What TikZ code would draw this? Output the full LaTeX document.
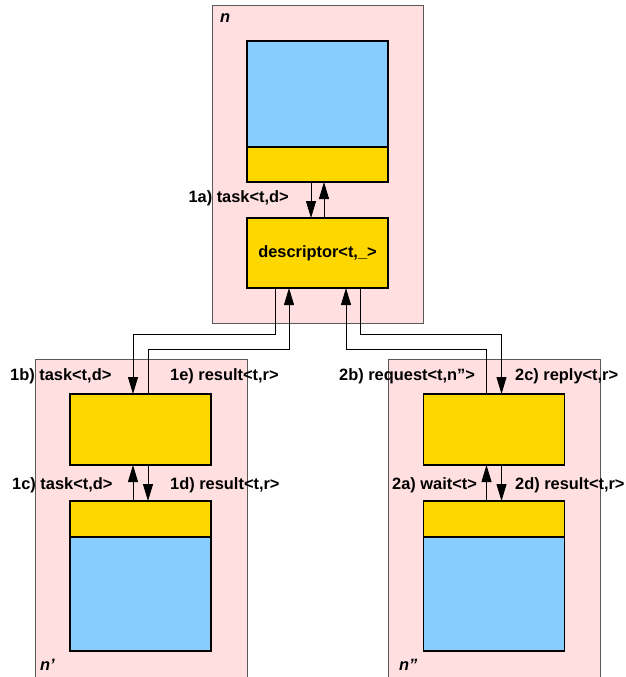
\documentclass[tikz,border=0pt]{standalone}
\usepackage{fontspec}
\setmainfont{Liberation Sans}
\usetikzlibrary{arrows.meta}
\definecolor{hostpink}{HTML}{FFDFE0}
\definecolor{storeblue}{HTML}{87CEFF}
\definecolor{slotgold}{HTML}{FFD700}

\begin{document}
\begin{tikzpicture}[
  x=1pt, y=-1pt,
  every node/.style={font=\fontsize{16.4}{18}\selectfont\bfseries},
  host/.style={draw=black!65, fill=hostpink, line width=0.9pt,
               minimum width=212pt, inner sep=0pt, outer sep=0pt},
  store/.style={draw=black, fill=storeblue, line width=1.1pt,
                minimum width=141pt, inner sep=0pt, outer sep=0pt},
  slot/.style={draw=black, fill=slotgold, line width=1.1pt,
               minimum width=141pt, inner sep=0pt, outer sep=0pt},
  lbl/.style={inner sep=0pt, anchor=west},
  arr/.style={-{Triangle[length=17pt, width=10pt]}, line width=0.9pt}
]
  \useasboundingbox (0,0) rectangle (626,677);

  % host n and its pieces
  \node[host, minimum width=211pt, minimum height=318pt] (hostn) at (317.5,164) {};
  \node[store, minimum height=106pt] (tstore) at (317.5,94) {};
  \node[slot, minimum height=35pt] (tstrip) at (317.5,164.5) {};
  \node[slot, minimum height=70pt] (desc) at (317.5,253) {descriptor<t,\_>};

  % host n'
  \node[host, minimum height=322pt] (hostl) at (141,520) {};
  \node[slot, minimum height=71pt] (lwork) at (140.5,429.5) {};
  \node[slot, minimum height=36pt] (lstrip) at (140.5,519) {};
  \node[store, minimum height=114pt] (lstore) at (140.5,594) {};

  % host n''
  \node[host, minimum height=322pt] (hostr) at (494,520) {};
  \node[slot, minimum height=71pt] (rwork) at (494,429.5) {};
  \node[slot, minimum height=36pt] (rstrip) at (494,519) {};
  \node[store, minimum height=114pt] (rstore) at (494,594) {};

  % host names
  \node[lbl, font=\fontsize{16.4}{18}\selectfont\bfseries\itshape] (nn) at (220,18) {n};
  \node[lbl, font=\fontsize{16.4}{18}\selectfont\bfseries\itshape] (nl) at (40,665) {n’};
  \node[lbl, font=\fontsize{16.4}{18}\selectfont\bfseries\itshape] (nr) at (399,665) {n”};

  % message labels
  \node[lbl, anchor=east] (m1a) at (289,198) {1a) task<t,d>};
  \node[lbl] (m1b) at (10,376) {1b) task<t,d>};
  \node[lbl] (m1e) at (170,376) {1e) result<t,r>};
  \node[lbl] (m1c) at (12,485) {1c) task<t,d>};
  \node[lbl] (m1d) at (170,485) {1d) result<t,r>};
  \node[lbl] (m2b) at (339,376) {2b) request<t,n”>};
  \node[lbl] (m2c) at (515,376) {2c) reply<t,r>};
  \node[lbl] (m2a) at (392,485) {2a) wait<t>};
  \node[lbl] (m2d) at (515,485) {2d) result<t,r>};

  % inside n
  \draw[arr] ([xshift=-6.5pt]tstrip.south) -- ([xshift=-6.5pt]desc.north);
  \draw[arr] ([xshift=6.5pt]desc.north) -- ([xshift=6.5pt]tstrip.south);

  % n <-> n'
  \draw[arr] ([xshift=-42.5pt]desc.south) -- ++(0,46) -| ([xshift=-7.5pt]lwork.north);
  \draw[arr] ([xshift=7.5pt]lwork.north) -- ++(0,-45) -| ([xshift=-28.5pt]desc.south);

  % n <-> n''
  \draw[arr] ([xshift=-7.5pt]rwork.north) -- ++(0,-45) -| ([xshift=28.5pt]desc.south);
  \draw[arr] ([xshift=42.5pt]desc.south) -- ++(0,46) -| ([xshift=7.5pt]rwork.north);

  % inside n' and n''
  \draw[arr] ([xshift=-7.5pt]lstrip.north) -- ([xshift=-7.5pt]lwork.south);
  \draw[arr] ([xshift=7.5pt]lwork.south) -- ([xshift=7.5pt]lstrip.north);
  \draw[arr] ([xshift=-7.5pt]rstrip.north) -- ([xshift=-7.5pt]rwork.south);
  \draw[arr] ([xshift=7.5pt]rwork.south) -- ([xshift=7.5pt]rstrip.north);
\end{tikzpicture}
\end{document}
